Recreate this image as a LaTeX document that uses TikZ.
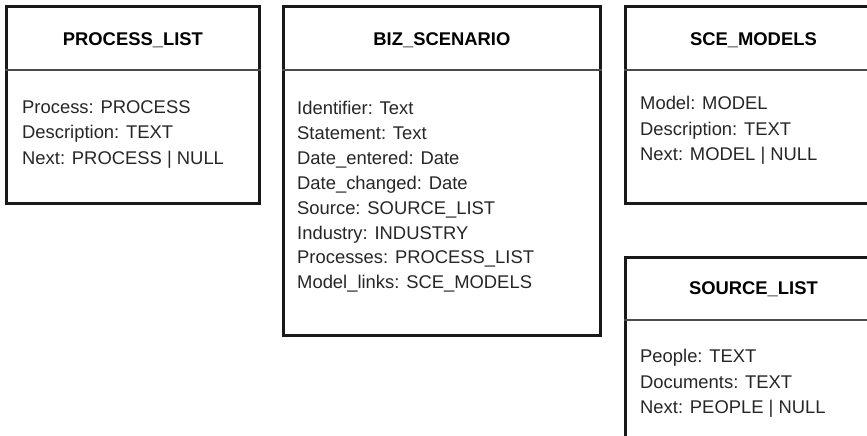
\documentclass[tikz,border=0pt]{standalone}
\usepackage{fontspec}
\setmainfont{Liberation Sans}

\begin{document}
\begin{tikzpicture}[
  x=1pt, y=-1pt,
  entity/.style={draw=black!90, line width=2.8pt, anchor=north west, inner sep=0pt},
  title/.style={font=\fontsize{18.4}{22}\selectfont\bfseries, anchor=base, inner sep=0pt},
  fields/.style={font=\fontsize{18.4}{25.5}\selectfont, text=black!85, align=left,
    anchor=north west, inner sep=0pt},
  divider/.style={draw=black!70, line width=1.4pt}
]
  \clip (0,0) rectangle (867,436);

  \node[entity, minimum width=253pt, minimum height=197pt] (proc) at (5,5) {};
  \node[title, yshift=-40.5pt] (proctitle) at (proc.north) {PROCESS\_LIST};
  \draw[divider] ([yshift=-65pt]proc.north west) -- ([yshift=-65pt]proc.north east);
  \node[fields, xshift=17pt, yshift=-95pt] (procfields) at (proc.north west)
    {Process: PROCESS\\Description: TEXT\\Next: PROCESS | NULL};

  \node[entity, minimum width=317pt, minimum height=329pt] (biz) at (282,5) {};
  \node[title, yshift=-40.5pt] (biztitle) at (biz.north) {BIZ\_SCENARIO};
  \draw[divider] ([yshift=-65pt]biz.north west) -- ([yshift=-65pt]biz.north east);
  \node[fields, font=\fontsize{18.4}{24.9}\selectfont, xshift=15pt, yshift=-96pt] (bizfields)
    at (biz.north west)
    {Identifier: Text\\Statement: Text\\Date\_entered: Date\\Date\_changed: Date\\
     Source: SOURCE\_LIST\\Industry: INDUSTRY\\Processes: PROCESS\_LIST\\
     Model\_links: SCE\_MODELS};

  \node[entity, minimum width=256pt, minimum height=197pt] (sce) at (624,5) {};
  \node[title, yshift=-40.5pt] (scetitle) at (sce.north) {SCE\_MODELS};
  \draw[divider] ([yshift=-65pt]sce.north west) -- ([yshift=-65pt]sce.north east);
  \node[fields, xshift=16pt, yshift=-91pt] (scefields) at (sce.north west)
    {Model: MODEL\\Description: TEXT\\Next: MODEL | NULL};

  \node[entity, minimum width=256pt, minimum height=200pt] (src) at (624,256) {};
  \node[title, yshift=-38pt] (srctitle) at (src.north) {SOURCE\_LIST};
  \draw[divider] ([yshift=-64pt]src.north west) -- ([yshift=-64pt]src.north east);
  \node[fields, xshift=16pt, yshift=-93pt] (srcfields) at (src.north west)
    {People: TEXT\\Documents: TEXT\\Next: PEOPLE | NULL};
\end{tikzpicture}
\end{document}
